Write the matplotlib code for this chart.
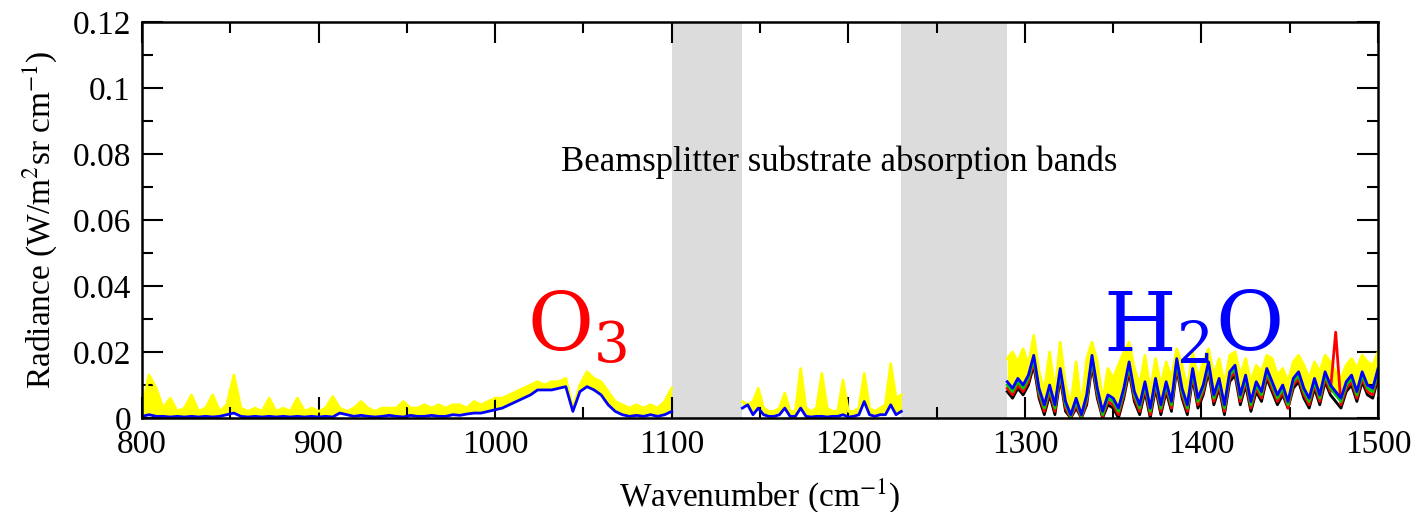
import numpy as np
import matplotlib
matplotlib.use("Agg")
import matplotlib.pyplot as plt

# wavenumber grids (cm-1) for the three measured windows
wn_a = np.arange(800, 1101, 4)
wn_b = np.arange(1140, 1231, 3)
wn_c = np.arange(1290, 1501, 3)

# window A: 800-1100 (O3 band)
yellow_a = [0.003, 0.013, 0.009, 0.003, 0.006, 0.002, 0.003, 0.007, 0.002, 0.003,
            0.007, 0.002, 0.004, 0.013, 0.003, 0.002, 0.003, 0.002, 0.006, 0.002,
            0.003, 0.002, 0.006, 0.002, 0.003, 0.002, 0.003, 0.0065, 0.003, 0.002,
            0.003, 0.005, 0.003, 0.002, 0.003, 0.003, 0.003, 0.005, 0.003, 0.003,
            0.004, 0.003, 0.004, 0.003, 0.004, 0.004, 0.003, 0.005, 0.004, 0.005,
            0.006, 0.006, 0.007, 0.008, 0.009, 0.010, 0.011, 0.010, 0.011, 0.011,
            0.012, 0.003, 0.010, 0.014, 0.012, 0.011, 0.008, 0.005, 0.004, 0.003,
            0.004, 0.003, 0.004, 0.003, 0.005, 0.009]
blue_a = [0.0005, 0.001, 0.0005, 0.0005, 0.0003, 0.0005, 0.0003, 0.0005, 0.0003, 0.0005,
          0.0003, 0.0005, 0.001, 0.0015, 0.0005, 0.0003, 0.0005, 0.0003, 0.0005, 0.0003,
          0.0005, 0.0003, 0.0005, 0.0003, 0.0005, 0.0003, 0.0005, 0.0003, 0.0015, 0.001,
          0.0005, 0.0008, 0.0005, 0.0003, 0.0005, 0.0008, 0.0005, 0.0003, 0.0008, 0.0005,
          0.0005, 0.0008, 0.0005, 0.0005, 0.001, 0.0008, 0.0012, 0.0015, 0.0015, 0.002,
          0.0025, 0.003, 0.004, 0.005, 0.006, 0.007, 0.0085, 0.0085, 0.0085, 0.009,
          0.0095, 0.002, 0.008, 0.0095, 0.0085, 0.007, 0.004, 0.002, 0.001, 0.0005,
          0.0008, 0.0005, 0.001, 0.0005, 0.001, 0.002]

# window B: 1140-1230
yellow_b = [0.005, 0.004, 0.005, 0.009, 0.003, 0.002, 0.002, 0.003, 0.0075, 0.002,
            0.002, 0.015, 0.003, 0.002, 0.003, 0.0135, 0.003, 0.002, 0.002, 0.0115,
            0.002, 0.002, 0.003, 0.0135, 0.003, 0.002, 0.003, 0.004, 0.0165, 0.006,
            0.007]
blue_b = [0.003, 0.004, 0.001, 0.003, 0.001, 0.0005, 0.0005, 0.001, 0.003, 0.0005,
          0.0005, 0.003, 0.0005, 0.0003, 0.0005, 0.0005, 0.0003, 0.0005, 0.0005, 0.001,
          0.0003, 0.0005, 0.001, 0.005, 0.001, 0.0005, 0.001, 0.001, 0.004, 0.001,
          0.002]

# window C: 1290-1500 (H2O band)
yellow_c = [0.018, 0.020, 0.017, 0.021, 0.016, 0.025, 0.014, 0.008, 0.020, 0.008,
            0.023, 0.010, 0.004, 0.017, 0.003, 0.018, 0.023, 0.017, 0.005, 0.015,
            0.012, 0.016, 0.020, 0.023, 0.015, 0.010, 0.019, 0.008, 0.018, 0.010,
            0.017, 0.012, 0.021, 0.016, 0.009, 0.020, 0.012, 0.017, 0.021, 0.013,
            0.018, 0.010, 0.019, 0.020, 0.013, 0.018, 0.011, 0.016, 0.014, 0.019,
            0.018, 0.013, 0.015, 0.011, 0.017, 0.019, 0.016, 0.012, 0.017, 0.014,
            0.019, 0.017, 0.014, 0.012, 0.016, 0.018, 0.015, 0.019, 0.017, 0.016,
            0.020]
blue_c = [0.011, 0.009, 0.012, 0.010, 0.013, 0.019, 0.009, 0.004, 0.010, 0.004,
          0.015, 0.005, 0.001, 0.006, 0.001, 0.007, 0.019, 0.009, 0.002, 0.007,
          0.006, 0.003, 0.009, 0.017, 0.008, 0.004, 0.011, 0.003, 0.012, 0.004,
          0.011, 0.005, 0.018, 0.009, 0.004, 0.015, 0.006, 0.010, 0.017, 0.007,
          0.012, 0.004, 0.014, 0.016, 0.007, 0.013, 0.005, 0.011, 0.008, 0.015,
          0.011, 0.007, 0.010, 0.005, 0.012, 0.014, 0.009, 0.006, 0.012, 0.007,
          0.014, 0.010, 0.008, 0.006, 0.011, 0.013, 0.008, 0.014, 0.010, 0.009,
          0.015]
green_c = [0.010, 0.008, 0.011, 0.009, 0.012, 0.018, 0.008, 0.003, 0.009, 0.003,
           0.014, 0.004, 0.0005, 0.005, 0.0005, 0.006, 0.018, 0.008, 0.001, 0.006,
           0.005, 0.002, 0.008, 0.016, 0.007, 0.003, 0.010, 0.002, 0.011, 0.003,
           0.010, 0.004, 0.017, 0.008, 0.003, 0.014, 0.005, 0.009, 0.016, 0.006,
           0.011, 0.003, 0.013, 0.015, 0.006, 0.012, 0.004, 0.010, 0.007, 0.014,
           0.010, 0.006, 0.009, 0.004, 0.011, 0.013, 0.008, 0.005, 0.011, 0.006,
           0.013, 0.009, 0.007, 0.005, 0.010, 0.012, 0.007, 0.013, 0.009, 0.008,
           0.014]
red_c = [0.009, 0.007, 0.010, 0.008, 0.011, 0.017, 0.007, 0.002, 0.008, 0.002,
         0.013, 0.003, 0.0, 0.004, 0.0, 0.005, 0.017, 0.007, 0.0005, 0.005,
         0.004, 0.001, 0.007, 0.015, 0.006, 0.002, 0.009, 0.001, 0.010, 0.002,
         0.009, 0.003, 0.016, 0.007, 0.002, 0.013, 0.004, 0.008, 0.015, 0.005,
         0.010, 0.002, 0.012, 0.014, 0.005, 0.011, 0.003, 0.009, 0.006, 0.013,
         0.009, 0.005, 0.008, 0.003, 0.010, 0.012, 0.007, 0.004, 0.010, 0.005,
         0.012, 0.008, 0.026, 0.004, 0.009, 0.011, 0.006, 0.012, 0.008, 0.007,
         0.013]
black_c = [0.008, 0.006, 0.009, 0.007, 0.010, 0.016, 0.006, 0.001, 0.007, 0.001,
           0.012, 0.002, 0.0, 0.003, 0.0, 0.004, 0.016, 0.006, 0.0, 0.004,
           0.003, 0.0, 0.006, 0.014, 0.005, 0.001, 0.008, 0.0, 0.009, 0.001,
           0.008, 0.002, 0.015, 0.006, 0.001, 0.012, 0.003, 0.007, 0.014, 0.004,
           0.009, 0.001, 0.011, 0.013, 0.004, 0.010, 0.002, 0.008, 0.005, 0.012,
           0.008, 0.004, 0.007, 0.003, 0.009, 0.011, 0.006, 0.003, 0.009, 0.004,
           0.011, 0.007, 0.005, 0.003, 0.008, 0.010, 0.005, 0.011, 0.007, 0.006,
           0.012]

# beamsplitter absorption bands
bands = [(1100, 1140), (1230, 1290)]

plt.rcParams['font.family'] = ['Liberation Serif', 'DejaVu Serif']
plt.rcParams['mathtext.fontset'] = 'stix'

fig = plt.figure(figsize=(14.16, 5.12), dpi=100)
ax = fig.add_axes([0.1003, 0.1836, 0.8729, 0.7734])

for lo, hi in bands:
    ax.axvspan(lo, hi, color='#dcdcdc', lw=0, zorder=0)

lw = 2.0
# yellow spectrum is so dense it reads as a filled band down to the blue one
for wn, yel, blu in [(wn_a, yellow_a, blue_a), (wn_b, yellow_b, blue_b)]:
    ax.fill_between(wn, blu, yel, color='yellow', lw=0)
    ax.plot(wn, yel, color='yellow', lw=lw)
    ax.plot(wn, blu, color='blue', lw=lw)

ax.fill_between(wn_c, blue_c, yellow_c, color='yellow', lw=0)
ax.plot(wn_c, yellow_c, color='yellow', lw=lw)
ax.plot(wn_c, black_c, color='black', lw=lw)
ax.plot(wn_c, red_c, color='red', lw=lw)
ax.plot(wn_c, green_c, color='#00cc00', lw=lw)
ax.plot(wn_c, blue_c, color='blue', lw=lw)

ax.set_xlim(800, 1500)
ax.set_ylim(0, 0.12)
ax.set_xticks(np.arange(800, 1501, 100))
ax.set_xticks(np.arange(850, 1500, 100), minor=True)
ax.set_yticks(np.arange(0, 0.121, 0.02))
ax.set_yticks(np.arange(0.01, 0.12, 0.02), minor=True)
ax.set_yticklabels(['0', '0.02', '0.04', '0.06', '0.08', '0.1', '0.12'])
ax.tick_params(which='both', direction='in', top=True, right=True, width=1.5,
               labelsize=24)
ax.tick_params(which='major', length=15, pad=8)
ax.tick_params(which='minor', length=8)
for s in ax.spines.values():
    s.set_linewidth(1.8)

ax.set_xlabel('Wavenumber (cm$^{-1}$)', fontsize=24, labelpad=12)
ax.set_ylabel('Radiance (W/m$^{2}$sr cm$^{-1}$)', fontsize=24, labelpad=10)

ax.text(1195, 0.0775, 'Beamsplitter substrate absorption bands', fontsize=25,
        ha='center', va='center')
ax.text(1018, 0.0206, 'O$_3$', color='red', fontsize=58, family='DejaVu Serif',
        math_fontfamily='dejavuserif', ha='left', va='baseline')
ax.text(1344, 0.0203, 'H$_2$O', color='blue', fontsize=60, family='DejaVu Serif',
        math_fontfamily='dejavuserif', ha='left', va='baseline')

fig.savefig('out.png', dpi=100)
